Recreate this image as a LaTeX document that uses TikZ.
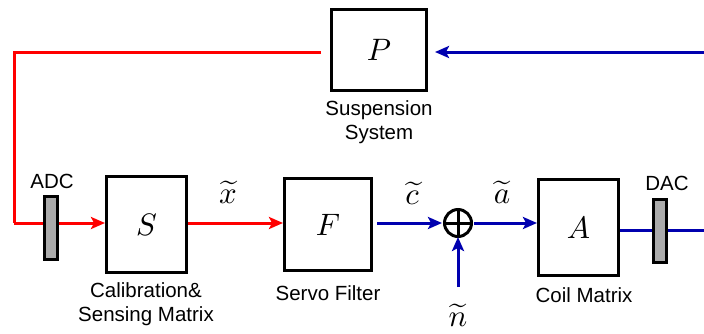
\documentclass[tikz,border=0pt]{standalone}
\usepackage{graphicx}
\usepackage{fontspec}
\setsansfont{Liberation Sans}
\usetikzlibrary{arrows.meta}
\definecolor{sigred}{RGB}{255,0,0}
\definecolor{sigblue}{RGB}{0,0,175}
\newcommand{\bigsym}[1]{\scalebox{3.1}{$#1$}}
\begin{document}
\begin{tikzpicture}[x=1pt,y=-1pt,
  blk/.style={draw=black,line width=3pt,fill=white,inner sep=0pt},
  conv/.style={draw=black,line width=3pt,fill=black!33,inner sep=0pt,minimum width=13pt,minimum height=63pt},
  lbl/.style={font=\sffamily\fontsize{20.5}{24}\selectfont,align=center,inner sep=0pt},
  sym/.style={inner sep=0pt},
  redline/.style={draw=sigred,line width=3pt},
  blueline/.style={draw=sigblue,line width=3pt},
  tip/.style={-{Stealth[length=14pt,width=12pt,inset=3pt]}}]
\useasboundingbox (0,0) rectangle (704,333);
% blocks
\node[blk,minimum width=95pt,minimum height=81pt] (P) at (379,50) {};
\node[sym] at (P.center) {\bigsym{P}};
\node[blk,minimum width=80pt,minimum height=96pt] (S) at (146.5,224.5) {};
\node[sym] at (S.center) {\bigsym{S}};
\node[blk,minimum width=87pt,minimum height=92pt] (F) at (328,224.5) {};
\node[sym] at (F.center) {\bigsym{F}};
\node[blk,minimum width=80pt,minimum height=96pt] (A) at (578.5,227.5) {};
\node[sym] at (A.center) {\bigsym{A}};
% coordinates
\coordinate (pl) at (321,52);
\coordinate (c1) at (14,52);
\coordinate (c2) at (14,223);
\coordinate (nin) at (458,287);
\coordinate (rb) at (704,230);
\coordinate (rt) at (704,52);
\coordinate (pr) at (435,52);
% connectors
\draw[redline] (pl) -- (c1) -- (c2);
\draw[redline,tip] (c2) -- (S.west |- c2);
\draw[redline,tip] (S.east |- c2) -- (F.west |- c2);
\node[conv] (ADC) at (50.5,228) {};
\node[circle,draw=black,line width=3pt,minimum size=27pt,inner sep=0pt] (sum) at (458,223) {};
\draw[line width=3pt] (sum.north) -- (sum.south) (sum.west) -- (sum.east);
\draw[blueline,tip] ([xshift=4pt]F.east |- sum) -- ([xshift=-1pt]sum.west);
\draw[blueline,tip] ([xshift=1pt]sum.east) -- (A.west |- sum);
\draw[blueline,tip] (nin) -- ([yshift=1pt]sum.south);
\draw[blueline] (A.east |- rb) -- (rb);
\node[conv] (DAC) at (660,231) {};
\draw[blueline,tip] (rt) -- (pr);
% labels
\node[lbl] at (379,122) {Suspension\\System};
\node[lbl] at (52,181) {ADC};
\node[lbl] at (667,183) {DAC};
\node[lbl] at (146,304) {Calibration\&\\Sensing Matrix};
\node[lbl] at (328,293) {Servo Filter};
\node[lbl] at (584,295) {Coil Matrix};
\node[sym] at (228,192) {\bigsym{\widetilde{x}}};
\node[sym] at (412,193) {\bigsym{\widetilde{c}}};
\node[sym] at (502,192) {\bigsym{\widetilde{a}}};
\node[sym] at (458,315) {\bigsym{\widetilde{n}}};
\end{tikzpicture}
\end{document}
